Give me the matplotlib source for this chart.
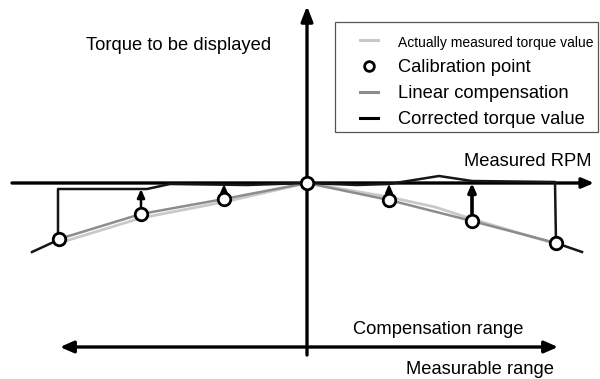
import matplotlib
matplotlib.use("Agg")
import matplotlib.pyplot as plt
from matplotlib.lines import Line2D
from matplotlib.patches import Rectangle

plt.rcParams['font.family'] = ['Liberation Sans', 'DejaVu Sans']

# Calibration points (RPM offset, torque offset), origin at the centre of the diagram
cal_rpm = [-248, -166, -83, 0, 82, 165, 249]
cal_torque = [-56, -31, -16, 0, -17, -38, -60]

# Torque actually measured by the sensor
meas_rpm = [-248, -166, -83, 0, 82, 128, 165, 249]
meas_torque = [-60, -35, -19, 0, -14, -24, -36, -61]

# Torque after correction (flat inside the compensation range)
corr_rpm = [-275, -249, -249, -160, -137, -60, 0, 50, 82, 132, 165, 248, 249, 275]
corr_torque = [-69, -57, -6, -6, -1, -2, 0, -2, -1, 7, 2, 1, -60, -69]

# Correction arrows: from calibration point up to corrected torque
arrow_rpm = [-166, -83, 82, 165]
arrow_from = [-31, -16, -17, -38]
arrow_to = [-6, -1, -1, 0]
arrow_width = [1.8, 1.4, 1.4, 2.6]

legend_labels = ["Actually measured torque value", "Calibration point",
                 "Linear compensation", "Corrected torque value"]

LIGHT = "#c9c9c9"
MID = "#8c8c8c"
DARK = "#1a1414"
FS = 13.2
W, H = 600, 379

fig = plt.figure(figsize=(W / 100, H / 100), dpi=100)
ax = fig.add_axes([0, 0, 1, 1])
ax.set_xlim(-307, 293)
ax.set_ylim(-196, 183)
ax.axis("off")

# Coordinate axes
ax.annotate("", xy=(287, 0), xytext=(-295, 0),
            arrowprops=dict(arrowstyle="-|>,head_length=0.7,head_width=0.3",
                            lw=2.4, color="black", shrinkA=0, shrinkB=0))
ax.annotate("", xy=(0, 177), xytext=(0, -172),
            arrowprops=dict(arrowstyle="-|>,head_length=0.9,head_width=0.35",
                            lw=2.4, color="black", shrinkA=0, shrinkB=0))

# Range arrow
ax.annotate("", xy=(251, -164), xytext=(-247, -164),
            arrowprops=dict(arrowstyle="<|-|>,head_length=0.8,head_width=0.35",
                            lw=2.4, color="black", shrinkA=0, shrinkB=0))

ax.plot(meas_rpm, meas_torque, color=LIGHT, lw=2.0, solid_capstyle="butt", zorder=2)
ax.plot(cal_rpm, cal_torque, color=MID, lw=1.8, solid_capstyle="butt", zorder=3)
ax.plot(corr_rpm, corr_torque, color=DARK, lw=1.8, zorder=4)

for x, y0, y1, w in zip(arrow_rpm, arrow_from, arrow_to, arrow_width):
    ax.annotate("", xy=(x, y1), xytext=(x, y0),
                arrowprops=dict(arrowstyle="-|>,head_length=0.5,head_width=0.22",
                                lw=w, color="black", shrinkA=5, shrinkB=0),
                zorder=5)

ax.plot(cal_rpm, cal_torque, linestyle="none", marker="o", ms=9,
        mfc="white", mec="black", mew=2.0, zorder=6)

ax.text(-221, 138, "Torque to be displayed", fontsize=FS, va="center", ha="left")
ax.text(285, 22, "Measured RPM", fontsize=FS, va="center", ha="right")
ax.text(46, -147, "Compensation range", fontsize=FS, va="center", ha="left")
ax.text(247, -187, "Measurable range", fontsize=FS, va="center", ha="right")

# Legend box
ax.add_patch(Rectangle((335 / W, 1 - 132 / H), 263 / W, 110 / H,
                       transform=fig.transFigure, facecolor="white",
                       edgecolor="#555555", lw=0.9, zorder=8, clip_on=False))

handles = [
    Line2D([], [], color=LIGHT, lw=2.2),
    Line2D([], [], linestyle="none", marker="o", ms=7, mfc="white", mec="black", mew=2),
    Line2D([], [], color=MID, lw=2.2),
    Line2D([], [], color="black", lw=2.2),
]
leg = ax.legend(handles, legend_labels, loc="upper left",
                bbox_to_anchor=(360 / W, 1 - 34 / H), bbox_transform=fig.transFigure,
                fontsize=FS, frameon=False, handlelength=1.0, handletextpad=1.1,
                borderpad=0, labelspacing=0.5, borderaxespad=0)
leg.set_zorder(9)
leg.get_texts()[0].set_fontsize(10)

fig.savefig("out.png", dpi=100)
